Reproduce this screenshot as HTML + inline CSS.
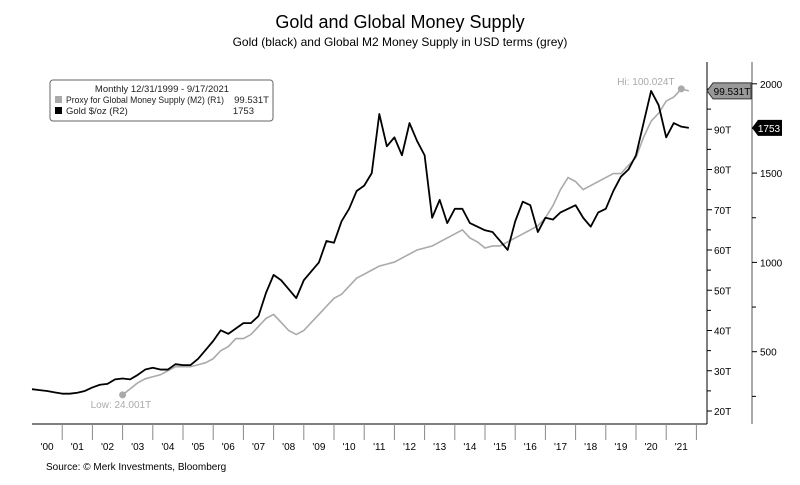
<!DOCTYPE html>
<html><head><meta charset="utf-8"><style>
body{margin:0;background:#fff;width:800px;height:480px;overflow:hidden;font-family:"Liberation Sans",sans-serif}
svg text{font-family:"Liberation Sans",sans-serif}
</style></head><body>
<svg width="800" height="480">
<text x="400" y="28" text-anchor="middle" font-size="18">Gold and Global Money Supply</text>
<text x="400" y="46" text-anchor="middle" font-size="12">Gold (black) and Global M2 Money Supply in USD terms (grey)</text>
<g id="axes"></g>
<g id="series"></g>
<g>
<rect x="50" y="80" width="223" height="41" rx="3" fill="#fff" stroke="#666" stroke-width="1"/>
<text x="162" y="92" font-size="9.5" text-anchor="middle" fill="#222">Monthly 12/31/1999 - 9/17/2021</text>
<rect x="55" y="96" width="7" height="7" fill="#aaa"/>
<text x="66" y="103" font-size="9.5" fill="#222" textLength="158" lengthAdjust="spacingAndGlyphs">Proxy for Global Money Supply (M2) (R1)</text>
<text x="269" y="103" font-size="9.5" text-anchor="end" fill="#222">99.531T</text>
<rect x="55" y="107" width="7" height="7" fill="#000"/>
<text x="66" y="114" font-size="9.5" fill="#222">Gold $/oz (R2)</text>
<text x="254" y="114" font-size="9.5" text-anchor="end" fill="#222">1753</text>
</g>
<text x="46" y="470" font-size="10">Source: © Merk Investments, Bloomberg</text>
</svg>
<script>
const years=["'00","'01","'02","'03","'04","'05","'06","'07","'08","'09","'10","'11","'12","'13","'14","'15","'16","'17","'18","'19","'20","'21"];
const r1Ticks=[20,30,40,50,60,70,80,90];
const r2Ticks=[500,1000,1500,2000];
const goldStart=2000;
const gold=[290,285,280,272,265,265,270,280,300,315,320,345,350,345,370,400,410,400,400,430,425,425,460,510,560,620,600,630,660,660,700,830,930,900,850,800,900,950,1000,1120,1110,1230,1300,1400,1430,1500,1831,1650,1700,1600,1780,1680,1600,1250,1350,1220,1300,1300,1220,1200,1180,1170,1120,1070,1230,1340,1320,1170,1250,1240,1280,1300,1320,1250,1200,1280,1300,1400,1480,1520,1600,1780,1960,1880,1700,1780,1760,1753];
const m2Start=2003;
const m2=[24.001,25.5,27,28,28.5,29,30,31,31,31,31.5,32,33,35,36,38,38,39,41,43,44,42,40,39,40,42,44,46,48,49,51,53,54,55,56,56.5,57,58,59,60,60.5,61,62,63,64,65,63,62,60.5,61,61,62,63,64,65,66,68,71,75,78,77,75,76,77,78,79,79,81,83,88,92,94,97,98,100.024,99.531];
const NS="http://www.w3.org/2000/svg";
const X=t=>32+(t-2000)*30.2;
const Y1=v=>411-(v-20)*4.025;
const Y2=v=>441-v*0.1786;
const ax=document.getElementById('axes'),sg=document.getElementById('series');
function mk(tag,at,par){const e=document.createElementNS(NS,tag);for(const k in at)e.setAttribute(k,at[k]);(par||ax).appendChild(e);return e;}
let l=mk('line',{x1:32,y1:424,x2:707,y2:424,stroke:'#000'});


years.forEach((y,i)=>{
 mk('line',{x1:X(2000+i+1),y1:424,x2:X(2000+i+1),y2:440,stroke:'#888'});
 const t=mk('text',{x:X(2000+i+0.5),y:450,'font-size':10,'text-anchor':'middle'});t.textContent=y;
 
 
});
l=mk('line',{x1:707,y1:62,x2:707,y2:424,stroke:'#000'});


for(let v=20;v<=100;v+=5){mk('line',{x1:707,y1:Y1(v),x2:v%10?711:712,y2:Y1(v),stroke:'#000'});}
r1Ticks.forEach(v=>{const t=mk('text',{x:714,y:Y1(v)+4,'font-size':10});t.textContent=v+'T';
 
 });
l=mk('line',{x1:752,y1:62,x2:752,y2:424,stroke:'#555'});


for(let v=250;v<=2000;v+=250){mk('line',{x1:752,y1:Y2(v),x2:v%500?756:757,y2:Y2(v),stroke:'#000'});}
r2Ticks.forEach(v=>{const t=mk('text',{x:760,y:Y2(v)+4,'font-size':10});t.textContent=v;
 
 });
const gp=gold.map((v,i)=>X(goldStart+i/4)+','+Y2(v)).join(' ');
const mp=m2.map((v,i)=>X(m2Start+i/4)+','+Y1(v)).join(' ');
let p=mk('polyline',{points:mp,fill:'none',stroke:'#aaa','stroke-width':1.6},sg);


p=mk('polyline',{points:gp,fill:'none',stroke:'#000','stroke-width':1.8,'stroke-linejoin':'round'},sg);


let lo=0,hi=0;m2.forEach((v,i)=>{if(v<m2[lo])lo=i;if(v>m2[hi])hi=i;});
mk('circle',{cx:X(m2Start+lo/4),cy:Y1(m2[lo]),r:3.5,fill:'#aaa'},sg);
mk('circle',{cx:X(m2Start+hi/4),cy:Y1(m2[hi]),r:3.5,fill:'#aaa'},sg);
let t=mk('text',{x:X(m2Start+lo/4)-32,y:Y1(m2[lo])+13,'font-size':10,fill:'#aaa'},sg);t.textContent='Low: '+m2[lo].toFixed(3)+'T';


t=mk('text',{x:X(m2Start+hi/4)-64,y:Y1(m2[hi])-4,'font-size':10,fill:'#aaa'},sg);t.textContent='Hi: '+m2[hi].toFixed(3)+'T';


const lm=m2[m2.length-1],ly=Y1(lm);
mk('path',{d:`M707 ${ly} L713 ${ly-8} L751 ${ly-8} L751 ${ly+8} L713 ${ly+8} Z`,fill:'#999',stroke:'#333'},sg);
t=mk('text',{x:732,y:ly+4,'font-size':10,'text-anchor':'middle'},sg);t.textContent=lm+'T';


const lg=gold[gold.length-1],gy=Y2(lg);
mk('path',{d:`M752 ${gy} L758 ${gy-8} L782 ${gy-8} L782 ${gy+8} L758 ${gy+8} Z`,fill:'#000'},sg);
t=mk('text',{x:769,y:gy+4,'font-size':10,'text-anchor':'middle',fill:'#fff'},sg);t.textContent=lg;


</script>
</body></html>
